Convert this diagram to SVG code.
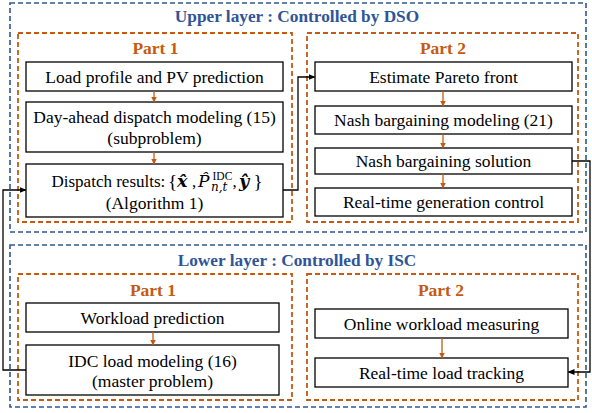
<svg xmlns="http://www.w3.org/2000/svg" width="592" height="413" viewBox="0 0 592 413">
<style>
.layer{fill:none;stroke:#2F5597;stroke-width:1.6;stroke-dasharray:5,3}
.part{fill:none;stroke:#C55A11;stroke-width:1.8;stroke-dasharray:5,3}
.box{fill:#fff;stroke:#000;stroke-width:1.3}
.oa{stroke:#C55A11;stroke-width:1.3;fill:none;marker-end:url(#ao)}
.ka{stroke:#000;stroke-width:1.3;fill:none;marker-end:url(#ak)}
</style>
<defs>
<marker id="ao" markerWidth="6" markerHeight="6" refX="5" refY="3" orient="auto" markerUnits="userSpaceOnUse"><path d="M0,0 L6,3 L0,6 z" fill="#C55A11"/></marker>
<marker id="ak" markerWidth="7" markerHeight="6" refX="6" refY="3" orient="auto" markerUnits="userSpaceOnUse"><path d="M0,0 L7,3 L0,6 z" fill="#000"/></marker>
</defs>

<g id="upper-layer">
<rect class="layer" x="10" y="3" width="576" height="229"/>
<text font-family="Liberation Serif" font-size="17.3" font-weight="bold" fill="#2F5597" text-anchor="middle" x="297" y="22">Upper layer : Controlled by DSO</text>
</g>
<g id="upper-part1">
<rect class="part" x="18" y="33" width="274" height="189"/>
<text font-family="Liberation Serif" font-size="17.5" font-weight="bold" fill="#C55A11" text-anchor="middle" x="155.5" y="54">Part 1</text>
</g>
<g id="upper-part2">
<rect class="part" x="307" y="33" width="271" height="189"/>
<text font-family="Liberation Serif" font-size="17.5" font-weight="bold" fill="#C55A11" text-anchor="middle" x="443" y="54">Part 2</text>
</g>

<g id="lower-layer">
<rect class="layer" x="10" y="245" width="576" height="162"/>
<text font-family="Liberation Serif" font-size="17.3" font-weight="bold" fill="#2F5597" text-anchor="middle" x="297" y="266">Lower layer : Controlled by ISC</text>
</g>
<g id="lower-part1">
<rect class="part" x="18" y="274" width="274" height="126"/>
<text font-family="Liberation Serif" font-size="17.5" font-weight="bold" fill="#C55A11" text-anchor="middle" x="153" y="296">Part 1</text>
</g>
<g id="lower-part2">
<rect class="part" x="307" y="274" width="271" height="126"/>
<text font-family="Liberation Serif" font-size="17.5" font-weight="bold" fill="#C55A11" text-anchor="middle" x="441" y="296">Part 2</text>
</g>

<g id="load-profile">
<rect class="box" x="26" y="62" width="257" height="29"/>
<text font-family="Liberation Serif" font-size="17.5" text-anchor="middle" x="154.5" y="83">Load profile and PV prediction</text>
</g>
<g id="day-ahead">
<rect class="box" x="26" y="102" width="257" height="50"/>
<text font-family="Liberation Serif" font-size="17.5" text-anchor="middle" x="154.5" y="123">Day-ahead dispatch modeling (15)</text>
<text font-family="Liberation Serif" font-size="17.5" text-anchor="middle" x="154.5" y="144">(subproblem)</text>
</g>
<g id="dispatch-results">
<rect class="box" x="26" y="164" width="257" height="53"/>
<text font-family="Liberation Serif" font-size="17" x="51.5" y="187">Dispatch results:</text>
<text font-family="Liberation Serif" x="168" y="188" font-size="19">{</text>
<text x="177" y="187" font-size="17.5" font-weight="bold" font-style="italic" font-family="DejaVu Serif">x̂</text>
<text font-family="Liberation Serif" x="192" y="187" font-size="17">,</text>
<text x="198" y="187" font-size="17" font-style="italic" font-family="DejaVu Serif">P̂</text>
<text font-family="Liberation Serif" x="212.5" y="180" font-size="11.5">IDC</text>
<text font-family="DejaVu Serif" x="211" y="191" font-size="12" font-style="italic">n,t</text>
<text font-family="Liberation Serif" x="232.5" y="187" font-size="17">,</text>
<text x="239" y="187" font-size="17.5" font-weight="bold" font-style="italic" font-family="DejaVu Serif">ŷ</text>
<text font-family="Liberation Serif" x="253.5" y="188" font-size="19">}</text>
<text font-family="Liberation Serif" font-size="17.5" text-anchor="middle" x="154.5" y="209">(Algorithm 1)</text>
</g>

<g id="pareto">
<rect class="box" x="315" y="62" width="257" height="29"/>
<text font-family="Liberation Serif" font-size="17.5" text-anchor="middle" x="443.5" y="83">Estimate Pareto front</text>
</g>
<g id="nash-modeling">
<rect class="box" x="315" y="106" width="257" height="28"/>
<text font-family="Liberation Serif" font-size="17.5" text-anchor="middle" x="443.5" y="126">Nash bargaining modeling (21)</text>
</g>
<g id="nash-solution">
<rect class="box" x="315" y="148" width="257" height="26"/>
<text font-family="Liberation Serif" font-size="17.5" text-anchor="middle" x="443.5" y="167">Nash bargaining solution</text>
</g>
<g id="rt-generation">
<rect class="box" x="315" y="188" width="257" height="28"/>
<text font-family="Liberation Serif" font-size="17.5" text-anchor="middle" x="443.5" y="208">Real-time generation control</text>
</g>

<g id="workload-prediction">
<rect class="box" x="26" y="303" width="253" height="29"/>
<text font-family="Liberation Serif" font-size="17.5" text-anchor="middle" x="152.5" y="324">Workload prediction</text>
</g>
<g id="idc-load">
<rect class="box" x="26" y="345" width="253" height="50"/>
<text font-family="Liberation Serif" font-size="17.5" text-anchor="middle" x="152.5" y="367">IDC load modeling (16)</text>
<text font-family="Liberation Serif" font-size="17.5" text-anchor="middle" x="152.5" y="387">(master problem)</text>
</g>
<g id="online-workload">
<rect class="box" x="315" y="309" width="253" height="29"/>
<text font-family="Liberation Serif" font-size="17.5" text-anchor="middle" x="441.5" y="330">Online workload measuring</text>
</g>
<g id="rt-load">
<rect class="box" x="315" y="358" width="253" height="29"/>
<text font-family="Liberation Serif" font-size="17.5" text-anchor="middle" x="441.5" y="379">Real-time load tracking</text>
</g>

<g id="connectors">
<path class="oa" d="M154,91 V101.5"/>
<path class="oa" d="M154,152 V163.5"/>
<path class="oa" d="M443,91 V105.5"/>
<path class="oa" d="M443,134 V147.5"/>
<path class="oa" d="M443,174 V187.5"/>
<path class="oa" d="M153,332 V344.5"/>
<path class="oa" d="M442,338 V357.5"/>
<path class="ka" d="M283,190 H298 V77 H314.5"/>
<path class="ka" d="M572,161 H590 V372 H568.5"/>
<path class="ka" d="M26,370 H3 V190 H25.5"/>
</g>
</svg>
